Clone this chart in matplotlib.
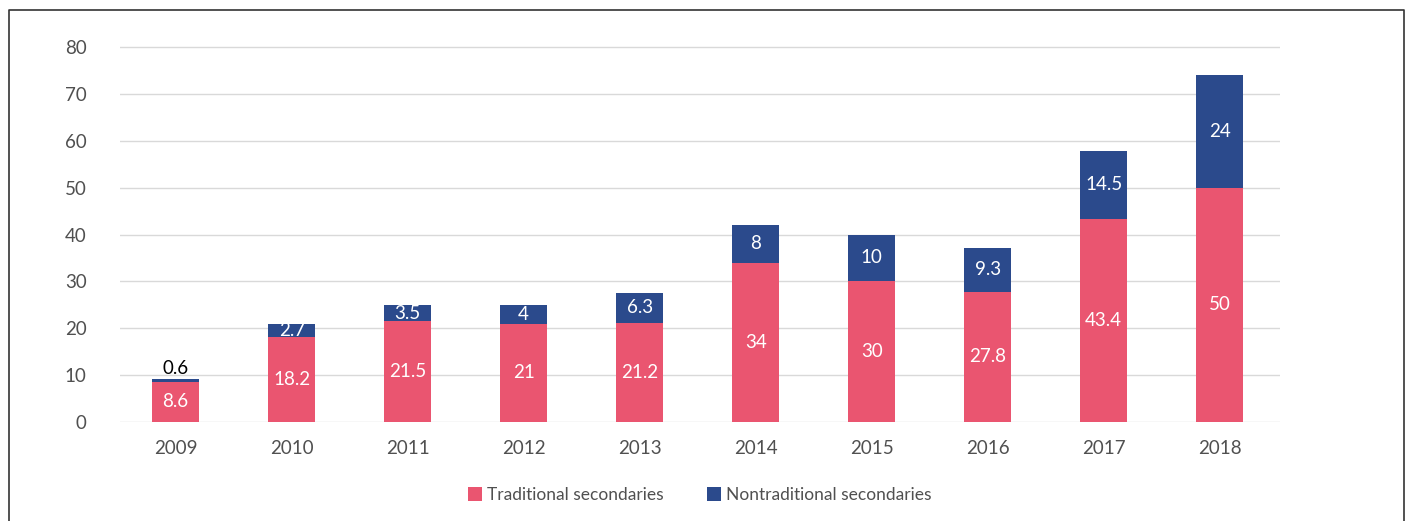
import matplotlib
matplotlib.use("Agg")
import matplotlib.pyplot as plt
from matplotlib.lines import Line2D
import numpy as np

years = ["2009", "2010", "2011", "2012", "2013", "2014", "2015", "2016", "2017", "2018"]
traditional = [8.6, 18.2, 21.5, 21, 21.2, 34, 30, 27.8, 43.4, 50]
nontraditional = [0.6, 2.7, 3.5, 4, 6.3, 8, 10, 9.3, 14.5, 24]
trad_labels = ["8.6", "18.2", "21.5", "21", "21.2", "34", "30", "27.8", "43.4", "50"]
nontrad_labels = ["0.6", "2.7", "3.5", "4", "6.3", "8", "10", "9.3", "14.5", "24"]
series_names = ["Traditional secondaries", "Nontraditional secondaries"]
yticks = [0, 10, 20, 30, 40, 50, 60, 70, 80]

plt.rcParams['font.family'] = ['Lato', 'DejaVu Sans']

PINK = "#EA5570"
NAVY = "#2B4A8C"
GRAY = "#505050"

fig = plt.figure(figsize=(14.06, 5.21), dpi=100)
ax = fig.add_axes([120/1406, 1-422/521, (1280-120)/1406, 375/521 * 82/80])

x = np.arange(len(years))
w = 0.40
ax.bar(x, traditional, w, color=PINK, label=series_names[0], zorder=3)
ax.bar(x, nontraditional, w, bottom=traditional, color=NAVY, label=series_names[1], zorder=3)

for i in range(len(years)):
    ax.text(x[i], traditional[i] / 2, trad_labels[i], ha='center', va='center',
            color='white', fontsize=13.5, zorder=4)
    if nontraditional[i] < 2:
        ax.text(x[i], traditional[i] + nontraditional[i] + 0.3, nontrad_labels[i],
                ha='center', va='bottom', color='black', fontsize=13.5, zorder=4)
    else:
        ax.text(x[i], traditional[i] + nontraditional[i] / 2, nontrad_labels[i],
                ha='center', va='center', color='white', fontsize=13.5, zorder=4)

ax.set_xlim(-0.48, len(years) - 1 + 0.52)
ax.set_ylim(0, 82)
ax.set_yticks(yticks)
ax.set_xticks(x)
ax.set_xticklabels(years)
ax.tick_params(axis='both', length=0, labelsize=13.5, colors=GRAY)
ax.tick_params(axis='x', pad=13)
ax.tick_params(axis='y', pad=24)
ax.grid(axis='y', color='#D9D9D9', linewidth=1, zorder=0)
for s in ax.spines.values():
    s.set_visible(False)

ax.legend(loc='center', bbox_to_anchor=(0.5, (495 - 422) / -375 * 80 / 82), ncol=2,
          frameon=False, fontsize=12.5, handlelength=0.8, handleheight=0.8,
          handletextpad=0.3, columnspacing=2.5, labelcolor=GRAY)

# frame around the figure (left, top, right)
fx0, fx1 = 8.5/1406, 1403.5/1406
fy = 1 - 9.5/521
fig.add_artist(Line2D([fx0, fx0, fx1, fx1], [0, fy, fy, 0], color='#333333', linewidth=1.2))

fig.savefig("out.png", dpi=100)
